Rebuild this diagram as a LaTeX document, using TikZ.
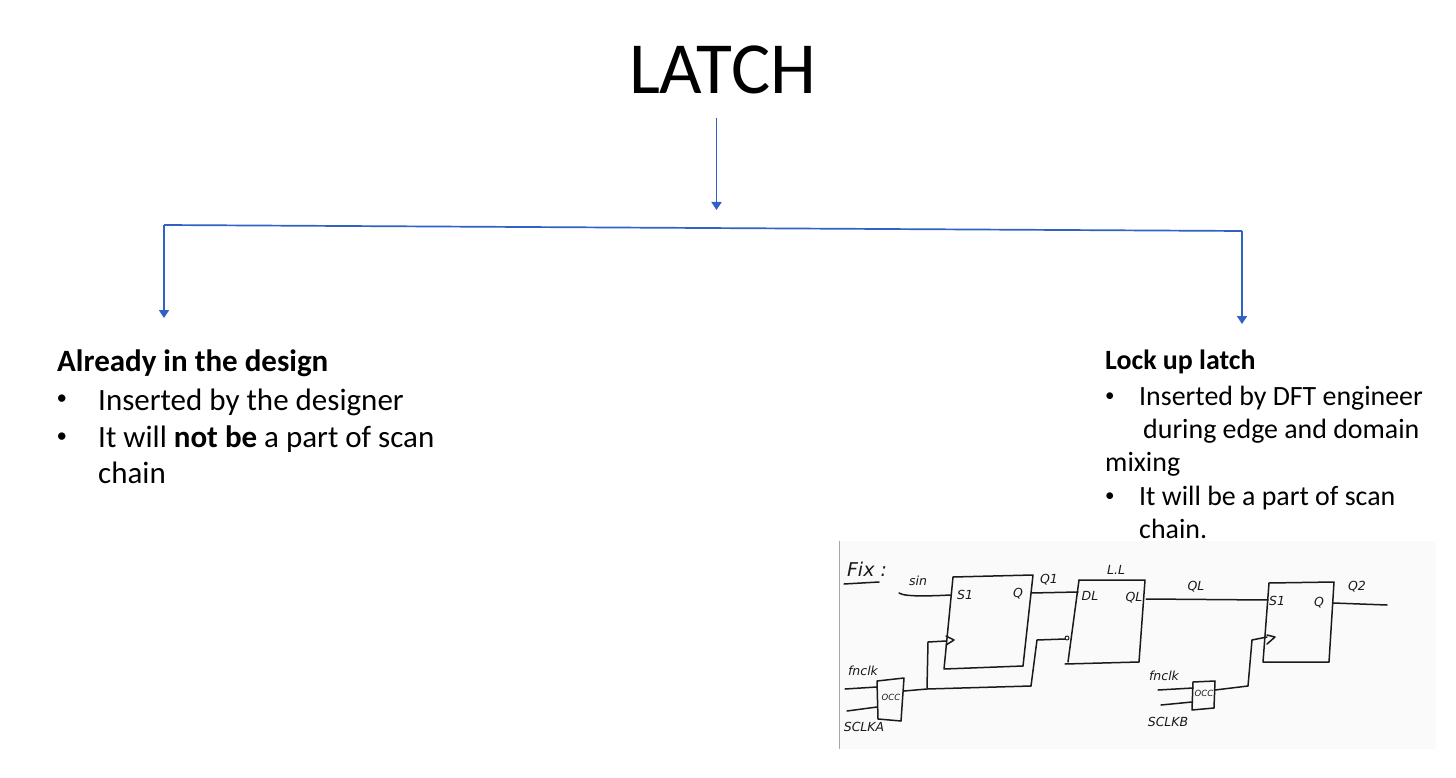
\documentclass[tikz,border=0pt]{standalone}
\usepackage{fontspec}
\setmainfont{Carlito}
\newfontfamily\handfont[Scale=1]{DejaVu Sans}
\definecolor{flowblue}{HTML}{2F62C4}
\definecolor{sketchbg}{HTML}{FAFAFA}
\definecolor{ink}{HTML}{1A1A1A}
\usetikzlibrary{arrows.meta}
\tikzset{
  flow/.style={draw=flowblue,line width=1.7pt},
  flowarrow/.style={flow,-{Triangle[length=8pt,width=10pt]}},
  bodyleft/.style={anchor=base west,inner sep=0pt,font=\fontsize{31}{34}\selectfont,text=black},
  bodyright/.style={anchor=base west,inner sep=0pt,font=\fontsize{27.9}{31}\selectfont,text=black},
  bulleft/.style={anchor=base west,inner sep=0pt,font=\fontsize{21}{22}\selectfont,text=black},
  bulright/.style={anchor=base west,inner sep=0pt,font=\fontsize{19}{20}\selectfont,text=black},
  wire/.style={draw=ink,line width=1.5pt,line join=round,line cap=round},
  hand/.style={inner sep=0pt,text=ink,font=\handfont\itshape\fontsize{12.5}{14}\selectfont},
  handsmall/.style={hand,font=\handfont\itshape\fontsize{8.5}{9}\selectfont},
  blockshape/.style={wire,fill=none}
}
\begin{document}
\begin{tikzpicture}[x=1pt,y=-1pt]
\useasboundingbox (0,0) rectangle (1456,778);
\fill[white] (0,0) rectangle (1456,778);
% title and tree
\node[inner sep=0pt,anchor=base,font=\fontsize{73.5}{76}\selectfont] (title) at (722.5,94) {LATCH};
\coordinate (t0) at (716.5,118);
\coordinate (t1) at (716.5,210);
\coordinate (hl) at (164,225);
\coordinate (hr) at (1242,231);
\coordinate (al) at (164,318);
\coordinate (ar) at (1242,324);
\draw[flowarrow] (t0) -- (t1);
\draw[flow] (hl) -- (hr);
\draw[flowarrow] (hl) -- (al);
\draw[flowarrow] (hr) -- (ar);
% left text
\node[bodyleft] (l1) at (57,371) {\textbf{Already in the design}};
\node[bulleft] (l2b) at (56.3,404.5) {•};
\node[bodyleft] (l2) at (98,410) {Inserted by the designer};
\node[bulleft] (l3b) at (56.3,442.5) {•};
\node[bodyleft] (l3) at (98,447) {It will \textbf{not be} a part of scan};
\node[bodyleft] (l4) at (98,483) {chain};
% right text
\node[bodyright] (r1) at (1105,369) {\textbf{Lock up latch}};
\node[bulright] (r2b) at (1105,401) {•};
\node[bodyright] (r2) at (1139,405) {Inserted by DFT engineer};
\node[bodyright] (r3) at (1143,438) {during edge and domain};
\node[bodyright] (r4) at (1105,471) {mixing};
\node[bulright] (r5b) at (1105,501) {•};
\node[bodyright] (r5) at (1139,505) {It will be a part of scan};
\node[bodyright] (r6) at (1139,538) {chain.};
% sketch panel
\fill[sketchbg] (839,541) rectangle (1436,749);
\draw[gray!70,line width=1pt] (839,541) -- (839,749);
% block outlines
\draw[blockshape] (953,577) -- (1033,575) -- (1023,666) -- (944,669) -- cycle;
\draw[blockshape] (1079,580) -- (1145,580) -- (1139,662) -- (1065,664);
\draw[blockshape] (1079,580) -- (1068,662);
\draw[blockshape] (1269,583) -- (1334,582) -- (1329,662) -- (1263,662) -- cycle;
\draw[blockshape] (877,681) -- (904,678) -- (901,721) -- (878,719) -- cycle;
\draw[blockshape] (1193,682) -- (1215,681) -- (1214,708) -- (1192,710) -- cycle;
% clock triangles
\draw[blockshape] (946,636) -- (954,640) -- (946,645);
\draw[blockshape] (1267,635) -- (1275,637) -- (1267,644);
% wires
\coordinate (sinA) at (899,593);
\coordinate (sinB) at (951,595);
\draw[wire] (sinA) .. controls (905,597) and (930,596) .. (sinB);
\draw[wire] (1031,593) -- (1078,592);
\draw[wire] (927,688) -- (928,642) -- (946,641);
\draw[wire] (904,691) -- (927,689) -- (1031,686) -- (1037,640) -- (1065,639);
\draw[wire,line width=1pt] (1067,638) circle (2);
\draw[wire] (845,689) -- (877,687);
\draw[wire] (847,711) -- (877,707);
\draw[wire] (1146,599) -- (1268,600);
\draw[wire] (1215,690) -- (1248,686) -- (1252,640) -- (1267,637);
\draw[wire] (1333,603) -- (1387,605);
\draw[wire] (1158,690) -- (1193,688);
\draw[wire] (1161,705) -- (1192,702);
\draw[wire] (844,584) -- (879,582);
% hand labels
\node[hand,font=\handfont\itshape\fontsize{19}{21}\selectfont] (fix) at (867,569) {Fix :};
\node[hand] (sin) at (918,581) {sin};
\node[hand] (s1a) at (965,595) {S1};
\node[hand] (qa) at (1018,594) {Q};
\node[hand] (q1) at (1049,580) {Q1};
\node[hand] (ll) at (1116,570) {L.L};
\node[hand] (dl) at (1090,596) {DL};
\node[hand] (ql1) at (1134,598) {QL};
\node[hand] (ql2) at (1196,587) {QL};
\node[hand] (s1b) at (1277,601) {S1};
\node[hand] (qb) at (1319,603) {Q};
\node[hand] (q2) at (1357,587) {Q2};
\node[hand] (fa) at (863,671) {fnclk};
\node[hand] (sa) at (864,727) {SCLKA};
\node[handsmall] (occa) at (891,697) {OCC};
\node[hand] (fb) at (1164,676) {fnclk};
\node[hand] (sb) at (1168,722) {SCLKB};
\node[handsmall] (occb) at (1204,693) {OCC};
\end{tikzpicture}
\end{document}
